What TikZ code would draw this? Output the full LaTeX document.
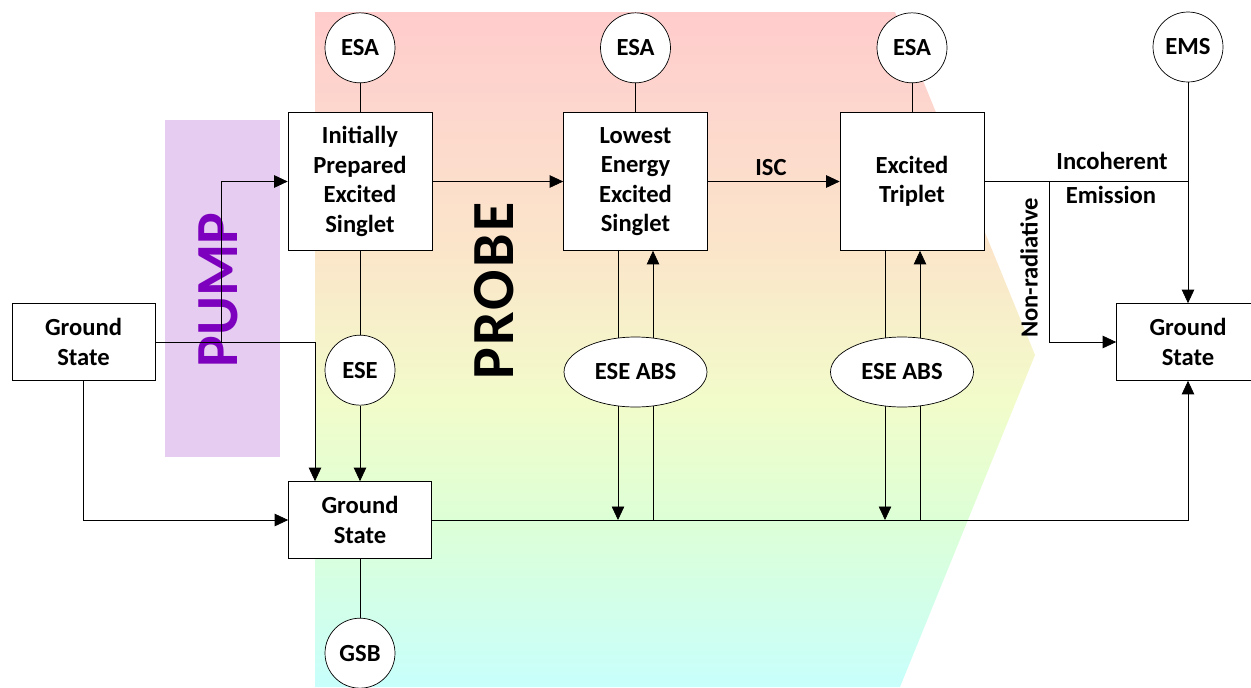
\documentclass[tikz,border=0pt]{standalone}
\usepackage{fontspec}
\setmainfont{Carlito}
\usetikzlibrary{arrows.meta,positioning,shapes.geometric}

\definecolor{pumpfill}{RGB}{229,204,240}
\definecolor{pumptext}{RGB}{125,0,190}
\definecolor{shpink}{RGB}{255,204,204}
\definecolor{shrose}{RGB}{253,214,205}
\definecolor{shpeach}{RGB}{251,230,202}
\definecolor{shyellow}{RGB}{242,252,202}
\definecolor{shgreen}{RGB}{220,255,215}
\definecolor{shcyan}{RGB}{200,255,252}

\pgfdeclareverticalshading{probeshading}{100bp}{color(0bp)=(shcyan); color(25bp)=(shcyan); color(37bp)=(shgreen); color(46bp)=(shyellow); color(57bp)=(shpeach); color(68bp)=(shrose); color(75bp)=(shpink); color(100bp)=(shpink)}

\pgfdeclarelayer{shade}
\pgfdeclarelayer{wires}
\pgfsetlayers{shade,wires,main}

\begin{document}
\begin{tikzpicture}[x=0.02cm, y=-0.02cm, line width=1.3pt,
    >={Triangle[length=0.27cm,width=0.25cm]},
    every node/.style={font=\fontsize{14}{16.8}\selectfont\bfseries},
    state/.style={draw, fill=white, align=center, minimum width=2.88cm, minimum height=2.76cm, inner sep=0pt},
    ground/.style={state, minimum width=2.86cm, minimum height=1.54cm},
    probe/.style={draw, fill=white, circle, minimum size=1.4cm, inner sep=0pt},
    signal/.style={draw, fill=white, ellipse, minimum width=2.86cm, minimum height=1.4cm, inner sep=0pt},
    biglabel/.style={rotate=90, font=\fontsize{34}{34}\selectfont\bfseries}]
    \useasboundingbox (0,0) rectangle (1251,687);

    % backdrop
    \begin{pgfonlayer}{shade}
        \shade[shading=probeshading] (315,12) -- (895,12) -- (1035,355) -- (900,687) -- (315,687) -- cycle;
        \fill[pumpfill] (165,120) rectangle (280,457);
        \node[biglabel, text=pumptext] (pumplabel) at (218,290) {PUMP};
    \end{pgfonlayer}
    \node[biglabel] (probelabel) at (494,291) {\addfontfeatures{LetterSpace=4}PROBE};

    % states
    \node[ground] (gsleft) at (83.5,342) {Ground\\State};
    \node[state] (ipes) at (360,181.5) {Initially\\Prepared\\Excited\\Singlet};
    \node[state] (lees) at (635.5,181.5) {Lowest\\Energy\\Excited\\Singlet};
    \node[state] (trip) at (912,181.5) {Excited\\Triplet};
    \node[ground] (gsmid) at (360,520) {Ground\\State};
    \node[ground] (gsright) at (1188,342) {Ground\\State};

    % probes
    \node[probe, above=0.58cm of ipes] (esa1) {ESA};
    \node[probe, above=0.58cm of lees] (esa2) {ESA};
    \node[probe, above=0.58cm of trip] (esa3) {ESA};
    \node[probe] (ems) at (1188,47) {EMS};
    \node[probe, below=1.68cm of ipes] (ese) {ESE};
    \node[probe, below=1.18cm of gsmid] (gsb) {GSB};
    \node[signal] (abs1) at (635.5,372) {ESE ABS};
    \node[signal] (abs2) at (902,372) {ESE ABS};

    % labels
    \node (isclabel) at (771,168) {ISC};
    \node (inclabel) at (1112,161) {Incoherent};
    \node (emilabel) at (1111,195) {Emission};
    \node[rotate=90] (nrlabel) at (1029,268) {Non-radiative};

    \coordinate (pumprise) at (221,342);
    \coordinate (pumpdrop) at (315,342);
    \coordinate (gsjoin) at (1188,520);
    \coordinate (down1) at (618,520);
    \coordinate (up1) at (653,520);
    \coordinate (down2) at (885,520);
    \coordinate (up2) at (920,520);
    \coordinate (emsjoin) at (1188,181.5);
    \coordinate (nrturn) at (1049,181.5);

    \begin{pgfonlayer}{wires}
        \draw[->] (gsleft.east) -- (pumpdrop) -- (gsmid.north -| pumpdrop);
        \draw[->] (pumprise) |- (ipes.west);
        \draw[->] (gsleft.south) |- (gsmid.west);
        \draw[->] (ipes) -- (lees);
        \draw[->] (lees) -- (trip);
        \draw (esa1) -- (ipes);
        \draw (esa2) -- (lees);
        \draw (esa3) -- (trip);
        \draw (ipes) -- (ese);
        \draw[->] (ese) -- (gsmid);
        \draw (gsmid) -- (gsb);
        \draw[->] (gsmid.east) -- (gsjoin) -- (gsright.south);
        \draw[->] (lees.south -| down1) -- (down1);
        \draw[->] (up1) -- (lees.south -| up1);
        \draw[->] (trip.south -| down2) -- (down2);
        \draw[->] (up2) -- (trip.south -| up2);
        \draw (trip.east) -- (emsjoin);
        \draw[->] (ems) -- (gsright);
        \draw[->] (nrturn) |- (gsright.west);
    \end{pgfonlayer}
\end{tikzpicture}
\end{document}
